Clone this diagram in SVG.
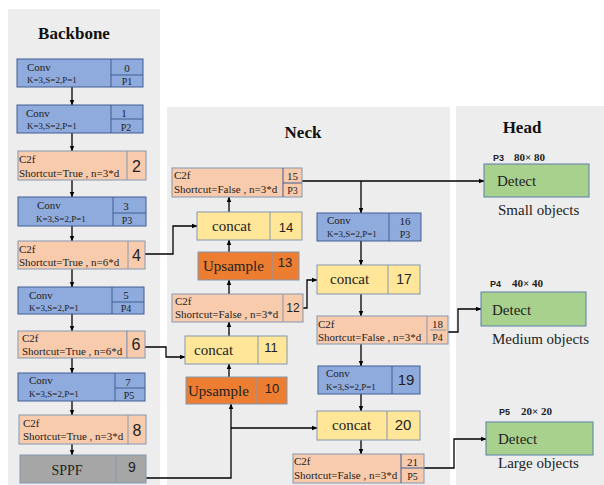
<svg xmlns="http://www.w3.org/2000/svg" width="604" height="485" viewBox="0 0 604 485">
<defs>
<marker id="ah" viewBox="0 0 10 10" refX="9" refY="5" markerWidth="6" markerHeight="6" orient="auto" markerUnits="userSpaceOnUse">
<path d="M0,1 L10,5 L0,9 z" fill="#000"/>
</marker>
<style>
.panel{fill:#ededed}
.conv{fill:#8faadc;stroke:#3f5f94;stroke-width:1}
.c2f{fill:#f8cbad;stroke:#8497b0;stroke-width:1}
.cat{fill:#ffe699;stroke:#8497b0;stroke-width:1}
.up{fill:#ed7d31;stroke:#8497b0;stroke-width:1}
.sppf{fill:#a6a6a6;stroke:#8497b0;stroke-width:1}
.det{fill:#a9d18e;stroke:#5a7fa8;stroke-width:1}
.dv{stroke:#3f5f94;stroke-width:1}
.dvc{stroke:#8497b0;stroke-width:1}
.s{font-family:"Liberation Serif","Times New Roman",serif;fill:#222}
.a{font-family:"Liberation Sans",Arial,sans-serif;fill:#222}
.t{font-family:"Liberation Serif","Times New Roman",serif;font-weight:bold;font-size:17px;fill:#111}
.n11{font-size:11px}
.n9{font-size:9px}
.n10{font-size:10px}
.big{font-size:15px}
.mid{text-anchor:middle}
.cn{fill:none;stroke:#000;stroke-width:1.3;marker-end:url(#ah)}
.cl{fill:none;stroke:#000;stroke-width:1.3}
</style>
</defs>
<rect class="panel" x="8" y="9" width="152" height="476"/>
<rect class="panel" x="167" y="107" width="283" height="378"/>
<rect class="panel" x="456" y="106" width="148" height="379"/>
<text class="t" x="74" y="39" text-anchor="middle">Backbone</text>
<text class="t" x="303" y="138" text-anchor="middle">Neck</text>
<text class="t" x="522" y="133" text-anchor="middle">Head</text>

<g id="connectors">
<line class="cn" x1="72" y1="87" x2="72" y2="105"/>
<line class="cn" x1="72" y1="133" x2="72" y2="151"/>
<line class="cn" x1="72" y1="180" x2="72" y2="197"/>
<line class="cn" x1="72" y1="226" x2="72" y2="241"/>
<line class="cn" x1="72" y1="269" x2="72" y2="287"/>
<line class="cn" x1="72" y1="314" x2="72" y2="331"/>
<line class="cn" x1="72" y1="358" x2="72" y2="373"/>
<line class="cn" x1="72" y1="401" x2="72" y2="415"/>
<line class="cn" x1="72" y1="444" x2="72" y2="455"/>
<polyline class="cn" points="145,254 173,254 173,226 197,226"/>
<polyline class="cn" points="145,347 166,347 166,357 185,357"/>
<polyline class="cn" points="146,478 231,478 231,404"/>
<polyline class="cn" points="231,428 317,428"/>
<line class="cn" x1="229" y1="377" x2="229" y2="364"/>
<line class="cn" x1="229" y1="336" x2="229" y2="322"/>
<line class="cn" x1="229" y1="294" x2="229" y2="280"/>
<line class="cn" x1="229" y1="252" x2="229" y2="240"/>
<line class="cn" x1="229" y1="212" x2="229" y2="197"/>
<line class="cn" x1="302" y1="181" x2="484" y2="181"/>
<polyline class="cn" points="361,181 361,213"/>
<line class="cn" x1="361" y1="241" x2="361" y2="265"/>
<polyline class="cn" points="303,308 307,308 307,280 317,280"/>
<line class="cn" x1="361" y1="294" x2="361" y2="316"/>
<polyline class="cn" points="448,332 458,332 458,309 481,309"/>
<line class="cn" x1="361" y1="344" x2="361" y2="366"/>
<line class="cn" x1="361" y1="394" x2="361" y2="411"/>
<line class="cn" x1="361" y1="440" x2="361" y2="454"/>
<polyline class="cn" points="424,468 454,468 454,439 486,439"/>
</g>

<g id="n0">
<rect class="conv" x="17" y="59" width="126" height="28"/>
<line class="dv" x1="111" y1="59" x2="111" y2="87"/><line class="dv" x1="111" y1="75" x2="143" y2="75"/>
<text class="s n11" x="27" y="71">Conv</text><text class="s n9" x="27" y="83">K=3,S=2,P=1</text>
<text class="s n11 mid" x="127" y="72">0</text><text class="s n10 mid" x="127" y="85">P1</text>
</g>
<g id="n1">
<rect class="conv" x="17" y="105" width="126" height="28"/>
<line class="dv" x1="111" y1="105" x2="111" y2="133"/><line class="dv" x1="111" y1="119" x2="143" y2="119"/>
<text class="s n11" x="26" y="117">Conv</text><text class="s n9" x="27" y="129">K=3,S=2,P=1</text>
<text class="s n11 mid" x="124" y="117">1</text><text class="s n10 mid" x="126" y="131">P2</text>
</g>
<g id="n2">
<rect class="c2f" x="18" y="151" width="128" height="29"/>
<line class="dvc" x1="127" y1="151" x2="127" y2="180"/>
<text class="s n11" x="19" y="163">C2f</text><text class="s n11" x="19" y="177">Shortcut=True , n=3*d</text>
<text class="a mid" x="136.5" y="172" font-size="16">2</text>
</g>
<g id="n3">
<rect class="conv" x="18" y="197" width="128" height="29"/>
<line class="dv" x1="113" y1="197" x2="113" y2="226"/><line class="dv" x1="113" y1="213" x2="146" y2="213"/>
<text class="s n11" x="37" y="209">Conv</text><text class="s n9" x="36" y="222">K=3,S=2,P=1</text>
<text class="s n11 mid" x="126" y="210">3</text><text class="s n10 mid" x="127" y="224">P3</text>
</g>
<g id="n4">
<rect class="c2f" x="18" y="241" width="127" height="28"/>
<line class="dvc" x1="128" y1="241" x2="128" y2="269"/>
<text class="s n11" x="19" y="253">C2f</text><text class="s n11" x="19" y="266">Shortcut=True , n=6*d</text>
<text class="a mid" x="136.5" y="261" font-size="16">4</text>
</g>
<g id="n5">
<rect class="conv" x="18" y="287" width="126" height="27"/>
<line class="dv" x1="112" y1="287" x2="112" y2="314"/><line class="dv" x1="112" y1="302" x2="144" y2="302"/>
<text class="s n11" x="29" y="299">Conv</text><text class="s n9" x="29" y="311">K=3,S=2,P=1</text>
<text class="s n11 mid" x="126" y="299">5</text><text class="s n10 mid" x="126" y="312">P4</text>
</g>
<g id="n6">
<rect class="c2f" x="18" y="331" width="109" height="27"/>
<rect class="c2f" x="127" y="331" width="18" height="27"/>
<text class="s n11" x="22" y="342">C2f</text><text class="s n11" x="22" y="355">Shortcut=True , n=6*d</text>
<text class="a mid" x="136" y="350" font-size="16">6</text>
</g>
<g id="n7">
<rect class="conv" x="18" y="373" width="127" height="28"/>
<line class="dv" x1="115" y1="373" x2="115" y2="401"/><line class="dv" x1="115" y1="388" x2="145" y2="388"/>
<text class="s n11" x="29" y="384">Conv</text><text class="s n9" x="29" y="397">K=3,S=2,P=1</text>
<text class="s n11 mid" x="128" y="386">7</text><text class="s n10 mid" x="129" y="399">P5</text>
</g>
<g id="n8">
<rect class="c2f" x="19" y="415" width="127" height="29"/>
<line class="dvc" x1="128" y1="415" x2="128" y2="444"/>
<text class="s n11" x="23" y="427">C2f</text><text class="s n11" x="23" y="440">Shortcut=True , n=3*d</text>
<text class="a mid" x="137" y="436" font-size="16">8</text>
</g>
<g id="n9">
<rect class="sppf" x="20" y="455" width="126" height="28"/>
<line class="dvc" x1="116" y1="455" x2="116" y2="483"/>
<text class="s mid" x="67" y="475" font-size="14">SPPF</text>
<text class="a mid" x="132" y="472" font-size="14">9</text>
</g>

<g id="n10">
<rect class="up" x="186" y="377" width="101" height="27"/>
<line class="dvc" x1="257" y1="377" x2="257" y2="404"/>
<text class="s big" x="188" y="396">Upsample</text>
<text class="a mid" x="272" y="393" font-size="13">10</text>
</g>
<g id="n11">
<rect class="cat" x="185" y="336" width="102" height="28"/>
<line class="dvc" x1="258" y1="336" x2="258" y2="364"/>
<text class="s big" x="194" y="355">concat</text>
<text class="a mid" x="271" y="352" font-size="13">11</text>
</g>
<g id="n12">
<rect class="c2f" x="172" y="294" width="131" height="28"/>
<line class="dvc" x1="283" y1="294" x2="283" y2="322"/>
<text class="s n11" x="175" y="305">C2f</text><text class="s n11" x="175" y="318">Shortcut=False , n=3*d</text>
<text class="a mid" x="293" y="312" font-size="12">12</text>
</g>
<g id="n13">
<rect class="up" x="198" y="252" width="101" height="28"/>
<line class="dvc" x1="272" y1="252" x2="272" y2="280"/>
<text class="s big" x="203" y="271">Upsample</text>
<text class="a mid" x="285" y="267" font-size="13">13</text>
</g>
<g id="n14">
<rect class="cat" x="197" y="212" width="105" height="28"/>
<line class="dvc" x1="270" y1="212" x2="270" y2="240"/>
<text class="s big" x="212" y="231">concat</text>
<text class="a mid" x="286" y="232" font-size="13">14</text>
</g>
<g id="n15">
<rect class="c2f" x="172" y="168" width="130" height="29"/>
<line class="dv" x1="283" y1="168" x2="283" y2="197"/><line class="dv" x1="283" y1="183" x2="302" y2="183"/>
<text class="s n11" x="174" y="179">C2f</text><text class="s n11" x="174" y="193">Shortcut=False , n=3*d</text>
<text class="s n11 mid" x="292.5" y="180">15</text><text class="s n10 mid" x="292.5" y="194">P3</text>
</g>
<g id="n16">
<rect class="conv" x="317" y="213" width="104" height="28"/>
<line class="dv" x1="389" y1="213" x2="389" y2="241"/>
<text class="s n11" x="327" y="224">Conv</text><text class="s n9" x="327" y="237">K=3,S=2,P=1</text>
<text class="s n11 mid" x="405" y="225">16</text><text class="s n10 mid" x="405" y="238">P3</text>
</g>
<g id="n17">
<rect class="cat" x="317" y="265" width="103" height="29"/>
<line class="dvc" x1="388" y1="265" x2="388" y2="294"/>
<text class="s big" x="330" y="284">concat</text>
<text class="a mid" x="404" y="284" font-size="14">17</text>
</g>
<g id="n18">
<rect class="c2f" x="317" y="316" width="131" height="28"/>
<line class="dvc" x1="427" y1="316" x2="427" y2="344"/><line class="dvc" x1="430" y1="330" x2="446" y2="330"/>
<text class="s n11" x="318" y="328">C2f</text><text class="s n11" x="318" y="341">Shortcut=False , n=3*d</text>
<text class="s n11 mid" x="437.5" y="328">18</text><text class="s n10 mid" x="437.5" y="341">P4</text>
</g>
<g id="n19">
<rect class="conv" x="318" y="366" width="102" height="28"/>
<line class="dv" x1="392" y1="366" x2="392" y2="394"/>
<text class="s n11" x="326" y="377">Conv</text><text class="s n9" x="326" y="390">K=3,S=2,P=1</text>
<text class="a mid" x="406" y="385" font-size="15">19</text>
</g>
<g id="n20">
<rect class="cat" x="317" y="411" width="103" height="29"/>
<line class="dvc" x1="387" y1="411" x2="387" y2="440"/>
<text class="s big" x="332" y="430">concat</text>
<text class="a mid" x="403" y="430" font-size="15">20</text>
</g>
<g id="n21">
<rect class="c2f" x="293" y="454" width="131" height="29"/>
<line class="dv" x1="401" y1="454" x2="401" y2="483"/><line class="dv" x1="401" y1="468" x2="424" y2="468"/>
<text class="s n11" x="294" y="465">C2f</text><text class="s n11" x="294" y="479">Shortcut=False , n=3*d</text>
<text class="s n11 mid" x="412.5" y="466">21</text><text class="s n10 mid" x="412.5" y="480">P5</text>
</g>

<g id="d1">
<text class="a" x="493" y="161" font-size="9" font-weight="bold">P3</text>
<text class="s" x="514" y="161" font-size="11" font-weight="bold">80× 80</text>
<rect class="det" x="484" y="164" width="105" height="33"/>
<text class="s big" x="497" y="186">Detect</text>
<text class="s big" x="498" y="215">Small objects</text>
</g>
<g id="d2">
<text class="a" x="490" y="287" font-size="9" font-weight="bold">P4</text>
<text class="s" x="512" y="287" font-size="11" font-weight="bold">40× 40</text>
<rect class="det" x="481" y="292" width="105" height="34"/>
<text class="s big" x="492" y="315">Detect</text>
<text class="s big" x="492" y="344">Medium objects</text>
</g>
<g id="d3">
<text class="a" x="499" y="415" font-size="9" font-weight="bold">P5</text>
<text class="s" x="521" y="415" font-size="11" font-weight="bold">20× 20</text>
<rect class="det" x="486" y="422" width="107" height="33"/>
<text class="s big" x="498" y="444">Detect</text>
<text class="s big" x="498" y="468">Large objects</text>
</g>
</svg>
